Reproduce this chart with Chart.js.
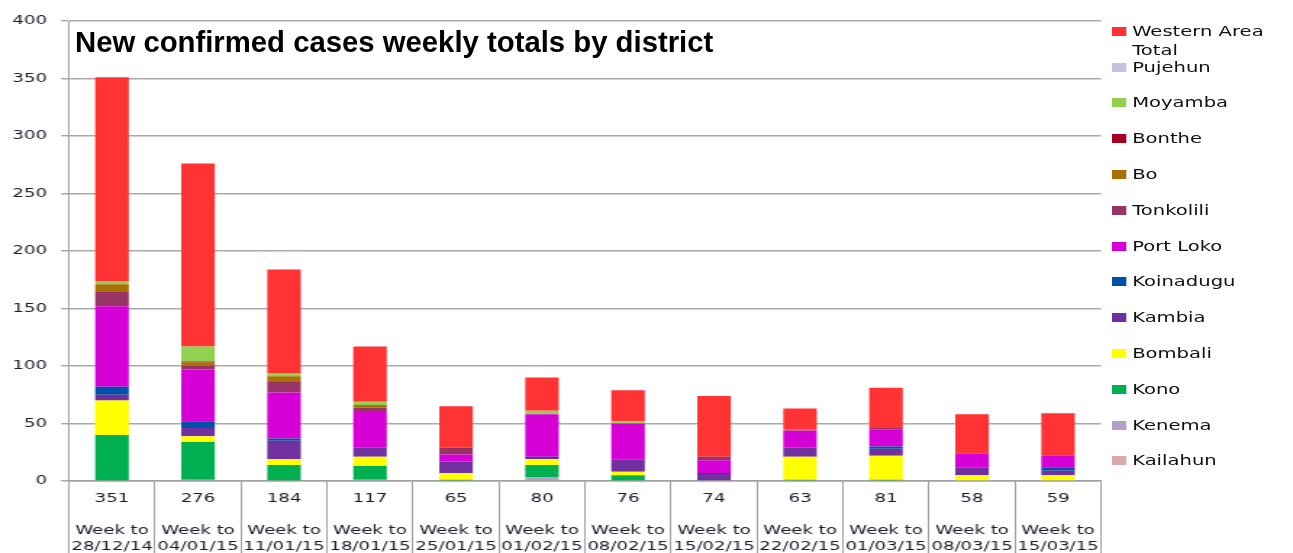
<!DOCTYPE html>
<html>
<head>
<meta charset="utf-8">
<script src="https://cdn.jsdelivr.net/npm/chart.js@4.4.1/dist/chart.umd.min.js"></script>
<style>
  body { margin: 0; background: #fff; overflow: hidden; }
  #page { position: relative; width: 1293px; height: 553px; }
  /* the source chart is stretched sideways, so the chart box is drawn narrow and scaled up */
  #wrap { position: absolute; left: 0; top: 0; width: 892px; height: 553px; transform: scaleX(1.4496); transform-origin: 0 0; }
  #title { position: absolute; left: 75px; top: 27px; font: bold 29.3px "Liberation Sans", Arial, sans-serif; line-height: 1; color: #000; white-space: nowrap; }
  .leg { position: absolute; left: 767px; font: 13.5px "DejaVu Sans", sans-serif; line-height: 19px; color: #111; }
  .leg .box { position: absolute; left: 0; top: 5px; width: 9.7px; height: 9px; }
  .leg .txt { position: absolute; left: 14px; top: 0; width: 100px; }
</style>
</head>
<body>
<div id="page">
  <div id="wrap">
    <canvas id="chart" width="892" height="553"></canvas>
    <div id="legend"></div>
  </div>
  <div id="title">New confirmed cases weekly totals by district</div>
</div>
<script>
const weekTotals = ["351", "276", "184", "117", "65", "80", "76", "74", "63", "81", "58", "59"];
const weekEnding = ["28/12/14", "04/01/15", "11/01/15", "18/01/15", "25/01/15", "01/02/15",
                    "08/02/15", "15/02/15", "22/02/15", "01/03/15", "08/03/15", "15/03/15"];

// stack order, bottom to top
const kailahun   = [0, 0, 0, 0, 0, 0, 0, 0, 0, 0, 0, 0];
const kenema     = [0, 1, 0, 1, 0, 3, 0, 0, 0, 0, 0, 0];
const kono       = [40, 33, 14, 12, 1, 11, 5, 0, 1, 1, 0, 0];
const bombali    = [30, 5, 5, 8, 6, 5, 3, 0, 20, 21, 5, 5];
const kambia     = [5, 7, 16, 8, 10, 1, 11, 6, 8, 6, 7, 4];
const koinadugu  = [7, 6, 2, 0, 0, 1, 0, 1, 0, 2, 0, 3];
const portLoko   = [70, 45, 40, 31, 6, 37, 31, 11, 15, 15, 12, 10];
const tonkolili  = [13, 3, 9, 4, 6, 0, 0, 3, 0, 1, 0, 0];
const bo         = [6, 3, 5, 2, 0, 0, 0, 0, 1, 0, 0, 0];
const bonthe     = [0, 1, 0, 0, 0, 0, 0, 0, 0, 0, 0, 0];
const moyamba    = [3, 13, 3, 3, 0, 3, 2, 0, 0, 0, 0, 0];
const pujehun    = [0, 0, 0, 0, 0, 0, 0, 0, 0, 0, 0, 0];
const western    = [177, 159, 90, 48, 36, 29, 27, 53, 18, 35, 34, 37];

const districtNames = ["Kailahun", "Kenema", "Kono", "Bombali", "Kambia", "Koinadugu", "Port Loko",
                       "Tonkolili", "Bo", "Bonthe", "Moyamba", "Pujehun", "Western Area Total"];
const districtValues = [kailahun, kenema, kono, bombali, kambia, koinadugu, portLoko,
                        tonkolili, bo, bonthe, moyamba, pujehun, western];
const districtColors = ["#DBA9A9", "#B3A2C7", "#00B050", "#FFFF00", "#7030A0", "#0050A8", "#D600D6",
                        "#993366", "#A87000", "#A50021", "#92D050", "#CCC1DA", "#FF3333"];

const yTicks = [0, 50, 100, 150, 200, 250, 300, 350, 400];

const S = 1293 / 892;
const axisGray = "#a0a0a0";

const datasets = districtNames.map((name, i) => ({
  label: name,
  data: districtValues[i],
  backgroundColor: districtColors[i],
  borderWidth: 0,
  barPercentage: 0.39,
  categoryPercentage: 1
}));

new Chart(document.getElementById("chart"), {
  type: "bar",
  data: {
    labels: weekTotals.map((t, i) => [t, "", "Week to", weekEnding[i]]),
    datasets: datasets
  },
  options: {
    responsive: false,
    animation: false,
    devicePixelRatio: 1,
    layout: { padding: { top: 21, right: 892 - 1101 / S, left: 0, bottom: 0 } },
    plugins: {
      legend: { display: false },
      tooltip: { enabled: false }
    },
    scales: {
      x: {
        stacked: true,
        grid: {
          offset: true,
          drawOnChartArea: false,
          drawTicks: true,
          tickLength: 72,
          color: axisGray,
          lineWidth: 1
        },
        border: { color: axisGray, width: 1.5 },
        ticks: {
          autoSkip: false,
          maxRotation: 0,
          padding: -62,
          color: "#1a1a2a",
          font: { family: "DejaVu Sans", size: 12.5, lineHeight: "16px" }
        },
        afterFit: (scale) => { scale.height = 72; }
      },
      y: {
        stacked: true,
        min: 0,
        max: 400,
        afterBuildTicks: (scale) => { scale.ticks = yTicks.map((v) => ({ value: v })); },
        grid: {
          color: "#aaaaaa",
          lineWidth: 1.5,
          drawTicks: true,
          tickLength: 8 / S
        },
        border: { color: axisGray, width: 1 },
        ticks: {
          padding: 69 / S - 8 / S - 47 / S,
          color: "#1a1a2a",
          font: { family: "DejaVu Sans", size: 12.6 }
        },
        afterFit: (scale) => { scale.width = 69 / S; }
      }
    }
  }
});

// legend, top item is the top of the stack
const legendEl = document.getElementById("legend");
const order = districtNames.map((n, i) => i).reverse();
order.forEach((idx, k) => {
  const cy = k === 0 ? 31 : 67 + 35.8 * (k - 1);
  const item = document.createElement("div");
  item.className = "leg";
  item.style.top = (cy - 9.5) + "px";
  item.innerHTML = `<span class="box" style="background:${districtColors[idx]}"></span><span class="txt">${districtNames[idx]}</span>`;
  legendEl.appendChild(item);
});
</script>
</body>
</html>
